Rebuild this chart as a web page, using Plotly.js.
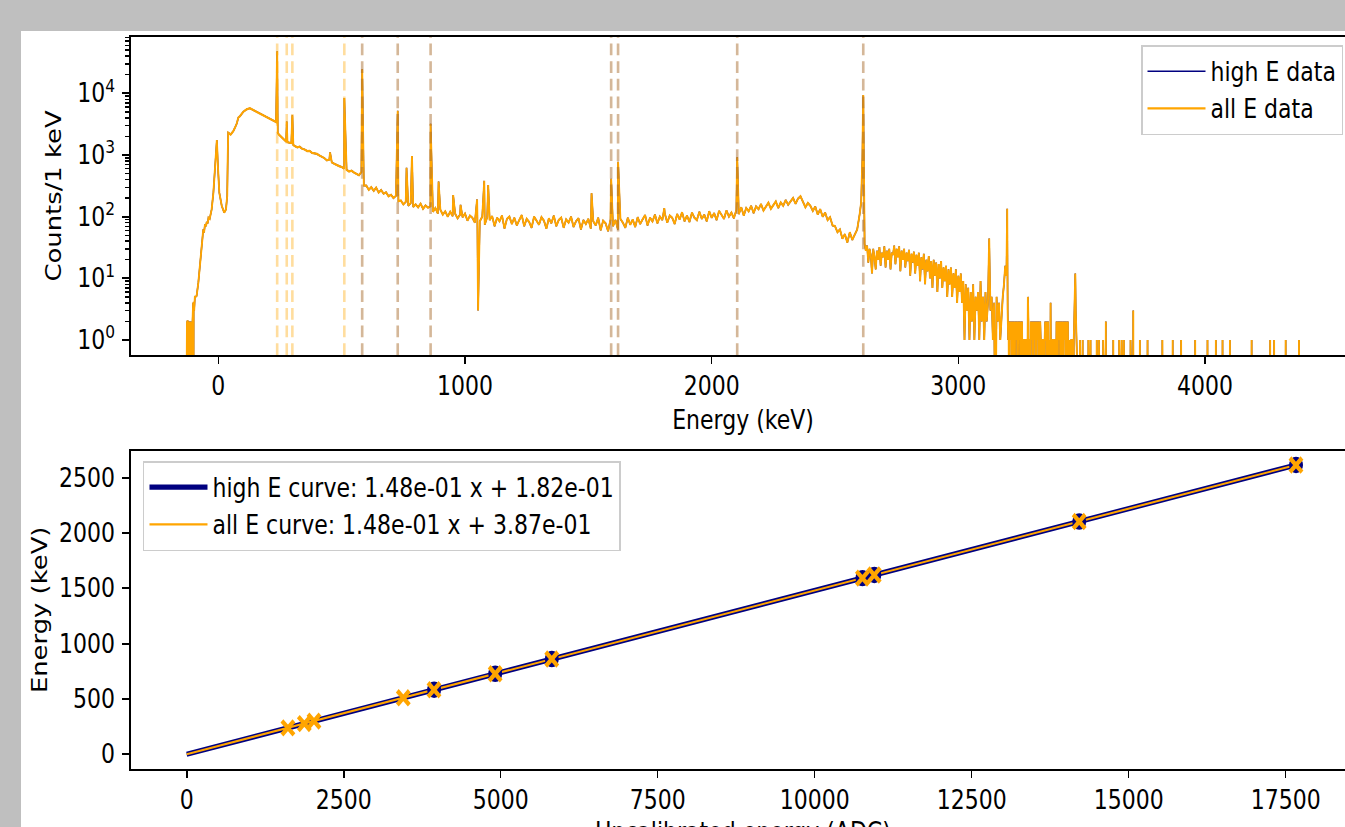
<!DOCTYPE html>
<html><head><meta charset="utf-8">
<script src="https://cdn.plot.ly/plotly-3.0.1.min.js"></script>
<style>
html,body{margin:0;padding:0;overflow:hidden;background:#bfbfbf;width:1345px;height:827px}
#fig{position:absolute;left:21px;top:31px;width:1345px;height:720px;background:#fff;transform:scaleY(1.175);transform-origin:0 0}
</style></head><body><div id="fig"></div>
<script>
// ---------- calibration lines (keV) ----------
const calAllE = [238.6, 277.4, 300.1, 510.8, 583.2, 727.3, 860.6, 1592.5, 1620.5, 2103.5, 2614.5];
const calAllADC = [1612, 1873, 2027, 3449, 3938, 4912, 5813, 10760, 10948, 14212, 17664];
const calHighE = [583.2, 727.3, 860.6, 1592.5, 1620.5, 2103.5, 2614.5];
const calHighADC = [3940, 4913, 5814, 10761, 10950, 14213, 17665];

// fit curves (end points of the straight lines)
const fitADC = [0, 17664];
const fitHighE = [0.182, 2614.5];
const fitAllE = [0.387, 2614.7];
const fitHighLabel = 'high E curve: 1.48e-01 x + 1.82e-01';
const fitAllLabel = 'all E curve: 1.48e-01 x + 3.87e-01';

// tick labels
const specTicks = [0, 1000, 2000, 3000, 4000];
const countTicks = [1, 10, 100, 1000, 10000];
const countTickText = ['10<sup>0</sup>','10<sup>1</sup>','10<sup>2</sup>','10<sup>3</sup>','10<sup>4</sup>'];
const adcTicks = [0, 2500, 5000, 7500, 10000, 12500, 15000, 17500];
const adcTickText = ['0','2500','5000','7500','10000','12500','15000','17500'];
const calTicks = [0, 500, 1000, 1500, 2000, 2500];

// ---------- spectrum (counts / 1 keV) ----------
const lowTailStartE = -130;
const lowTailCounts = [0,2,1,2,0,2,2,1,0,2,1, 0,1,2,0,1,2,1,0,2,1,2,0,1,2,2, 4,2,4,0,4,4,3,4,4,5];

const riseE = [-93,-88,-81,-74,-67,-61,-58,-54,-50,-47,-43,-40,-35,-30,-27,-20,-13,-6,-1,4,14,24,31,36,38,40,50,61,68,75,81,88,101,115,128,142,162,182,203,223,234,238.6,241,245,255,263,270,275,277.4,280,288,296,300.1,304];
const riseC = [5,5.2,8.5,18,38,62,55,75,70,82,78,96,92,110,131,245,660,1750,585,245,149,116,131,216,800,2290,2150,2450,2800,3250,4020,4270,5000,5500,5720,5350,4730,4270,3880,3550,3420,48000,2300,2150,1950,1800,1700,1650,3500,1620,1580,1560,4400,1450];

// continuum read every 10 keV from 310 keV to 2600 keV
const contStartE = 310, contStepE = 10;
const contC = [
 1400,1330,1360,1260,1230,1160,1170,1080,1060,
 1040,980,950,890,820,840,760,720,680,660,
 640,600,575,540,555,520,490,470,530,320,
 318,272,300,262,296,246,270,236,248,214,
 226,200,218,178,182,158,174,150,166,144,
 158,142,162,134,152,140,148,120,138,112,
 130,108,122,100,120,102,112,94,108,98,
 112,86,104,96,80,108,84,100,74,98,
 88,102,70,96,84,104,64,92,100,76,
 96,72,88,106,70,92,82,66,100,84,
 74,98,86,64,94,78,104,70,88,96,
 66,90,80,100,68,84,94,62,88,76,
 92,64,84,72,96,60,86,78,58,90,
 70,88,62,92,80,66,96,74,90,68,
 98,76,90,106,72,96,84,108,78,100,
 88,112,80,104,96,76,110,90,118,84,
 104,82,116,96,88,120,92,108,84,122,
 96,114,88,124,104,92,126,100,116,94,
 128,110,142,104,138,122,150,114,146,132,
 160,126,150,168,134,158,176,138,170,150,
 186,156,178,200,162,196,214,176,142,166,
 150,124,146,108,132,100,116,88,98,72,
 70,56,62,44,52,38,56,42,50,62,
 110];

// peaks and single spikes
const peakE = [453, 510.8, 583.2, 727.3, 763, 785, 860.6, 893, 952, 982, 1049, 1053, 1078, 1094, 1513, 1592.5, 1620.5, 1808, 2103.5, 2606, 2611, 2614.5, 3198];
const peakC = [1100, 8400, 24500, 5200, 620, 960, 3200, 370, 224, 155, 190, 3, 380, 325, 240, 410, 775, 137, 920, 170, 900, 9400, 134];

// above the 2614 keV peak, read every 5 keV
const highStartE = 2620, highStepE = 5;
const highC = [
 36,28,34,18,30,24,12,30,22,14,
 28,20,32,16,26,22,33,15,28,20,
 30,14,26,24,34,17,30,22,33,13,
 28,20,30,15,26,19,29,11,25,18,
 27,12,24,16,26,9,22,14,25,8,
 20,13,23,10,19,7,20,11,18,6,
 17,10,19,7,15,9,16,5,14,8,
 15,5,12,7,14,4,11,6,12,4,
 9,1,8,3,7,1,6,2,8,1,
 5,3,6,1,9,2,5,1,6,2,
 4,44,3,5,1,4,0,5,2,4,
 1,3,5,8,16,11];

// 3200-3480 keV, every 2 keV
const denseStartE = 3200, denseStepE = 2;
const denseC = [
 3,1,2,0,2,1,2,1,2,0, 2,1,2,1,0,2,1,2,1,2, 0,1,2,1,2,1,0,2,1,2, 1,0,1,1,0,1,0,1,1,0,
 1,5,2,0,1,1,0,2,1,2, 1,2,0,2,1,2,1,2,0,2, 1,2,1,2,0,1,2,1,0,1, 1,0,1,0,1,1,2,1,2,0,
 2,1,2,1,0,1,0,4,1,0, 1,1,0,1,0,1,1,0,1,2, 1,0,2,1,2,1,2,0,2,1, 2,1,0,2,1,2,1,2,0,1,
 2,1,2,0,1,1,0,1,0,1, 1,0,1,0,1,2,4,12,3,1, 0];

// isolated counts above 3480 keV (all other bins are empty)
const eventE = [3493,3504,3527,3536,3561,3570,3587,3598,3628,3652,3662,3671,3698,3709,3736,3767,3827,3869,3903,3960,4010,4044,4071,4101,4189,4264,4280,4327,4381];
const eventC = [1,1,1,1,1,1,1,2,1,1,1,1,1,3,1,1,1,1,1,1,1,1,1,1,1,1,1,1,1];

// ---------- build spectrum vertices ----------
const pts = [];
lowTailCounts.forEach((c,i)=>pts.push([lowTailStartE+i, c]));
riseE.forEach((e,i)=>pts.push([e, riseC[i]]));
contC.forEach((c,i)=>pts.push([contStartE+i*contStepE, c]));
peakE.forEach((e,i)=>pts.push([e, peakC[i]]));
highC.forEach((c,i)=>pts.push([highStartE+i*highStepE, c]));
denseC.forEach((c,i)=>pts.push([denseStartE+i*denseStepE, c]));
eventE.forEach((e,i)=>{pts.push([e-1,0]);pts.push([e,eventC[i]]);pts.push([e+1,0]);});
pts.push([4450,0]);
pts.sort((a,b)=>a[0]-b[0]);
const specX = pts.map(p=>p[0]);
// empty bins are clipped below the log axis, as matplotlib does
const specY = pts.map(p=>p[1]>0?p[1]:0.01);

// ---------- styling ----------
const NAVY='#000080', ORANGE='#ffa500';
const FONT={family:'DejaVu Sans', size:22, color:'#000'};
const axCommon = {ticks:'outside', tickwidth:1.6, tickcolor:'#000', showline:true, mirror:true,
  linecolor:'#000', linewidth:1.6, showgrid:false, zeroline:false, tickfont:FONT, tickmode:'array'};

const minorVals=[];
for(let k=0;k<5;k++){for(let m=2;m<10;m++){minorVals.push(m*Math.pow(10,k));}}

const traces = [
 {x:specX, y:specY, xaxis:'x', yaxis:'y', type:'scatter', mode:'lines', name:'high E data',
  line:{color:NAVY, width:1.4}, legend:'legend', legendgroup:'a'},
 {x:specX, y:specY, xaxis:'x', yaxis:'y', type:'scatter', mode:'lines', name:'all E data',
  line:{color:ORANGE, width:1.9}, legend:'legend', legendgroup:'b'},
 {x:fitADC, y:fitHighE, xaxis:'x2', yaxis:'y2', type:'scatter', mode:'lines', name:fitHighLabel,
  line:{color:NAVY, width:4.5}, legend:'legend2', legendgroup:'c'},
 {x:fitADC, y:fitAllE, xaxis:'x2', yaxis:'y2', type:'scatter', mode:'lines', name:fitAllLabel,
  line:{color:ORANGE, width:1.8}, legend:'legend2', legendgroup:'d'},
 {x:calHighADC, y:calHighE, xaxis:'x2', yaxis:'y2', type:'scatter', mode:'markers', showlegend:false,
  marker:{symbol:'circle', size:14, color:NAVY}},
 {x:calAllADC, y:calAllE, xaxis:'x2', yaxis:'y2', type:'scatter', mode:'markers', showlegend:false,
  marker:{symbol:'x-thin', size:12, line:{color:ORANGE, width:4}, color:ORANGE}}
];

const shapes=[];
calAllE.forEach(e=>shapes.push({type:'line', xref:'x', yref:'y domain', x0:e, x1:e, y0:0, y1:1,
  line:{color:'rgba(255,165,0,0.38)', width:2.6, dash:'10px,5px'}, layer:'above'}));
calHighE.forEach(e=>shapes.push({type:'line', xref:'x', yref:'y domain', x0:e, x1:e, y0:0, y1:1,
  line:{color:'rgba(0,0,128,0.17)', width:2.6, dash:'10px,5px'}, layer:'above'}));

const legendCommon = {bgcolor:'rgba(255,255,255,0.8)', bordercolor:'#cccccc', borderwidth:1.5,
  font:FONT, traceorder:'grouped', tracegroupgap:0, itemwidth:58};

const layout = {
 width:1345, height:720, margin:{l:110, r:11, t:0, b:0},
 paper_bgcolor:'#fff', plot_bgcolor:'#fff', font:FONT, showlegend:true, hovermode:false,
 xaxis:Object.assign({}, axCommon, {domain:[0,1], anchor:'y', range:[-354,4608], ticklen:6,
   tickvals:specTicks, ticktext:specTicks.map(String), title:{text:'Energy (keV)', font:FONT, standoff:9}}),
 yaxis:Object.assign({}, axCommon, {domain:[0.61703,0.99291], anchor:'x', type:'log', range:[-0.2432,4.913], ticklen:7,
   tickvals:countTicks, ticktext:countTickText, ticklabelstandoff:3,
   minor:{tickmode:'array', tickvals:minorVals, ticks:'outside', ticklen:4, tickwidth:1.2, tickcolor:'#000', showgrid:false},
   title:{text:'Counts/1 keV', font:FONT, standoff:9}}),
 xaxis2:Object.assign({}, axCommon, {domain:[0,1], anchor:'y2', range:[-887,18604], ticklen:6,
   tickvals:adcTicks, ticktext:adcTickText, title:{text:'Uncalibrated energy (ADC)', font:FONT, standoff:8}}),
 yaxis2:Object.assign({}, axCommon, {domain:[0.12765,0.50390], anchor:'x2', range:[-133,2744], ticklen:7,
   tickvals:calTicks, ticktext:calTicks.map(String), ticklabelstandoff:3, title:{text:'Energy (keV)', font:FONT, standoff:5}}),
 legend:Object.assign({}, legendCommon, {x:0.9902, xanchor:'right', y:0.98345, yanchor:'top'}),
 legend2:Object.assign({}, legendCommon, {x:0.0098, xanchor:'left', y:0.49172, yanchor:'top'}),
 shapes:shapes
};

Plotly.newPlot('fig', traces, layout, {staticPlot:true, displayModeBar:false});
</script></body></html>
